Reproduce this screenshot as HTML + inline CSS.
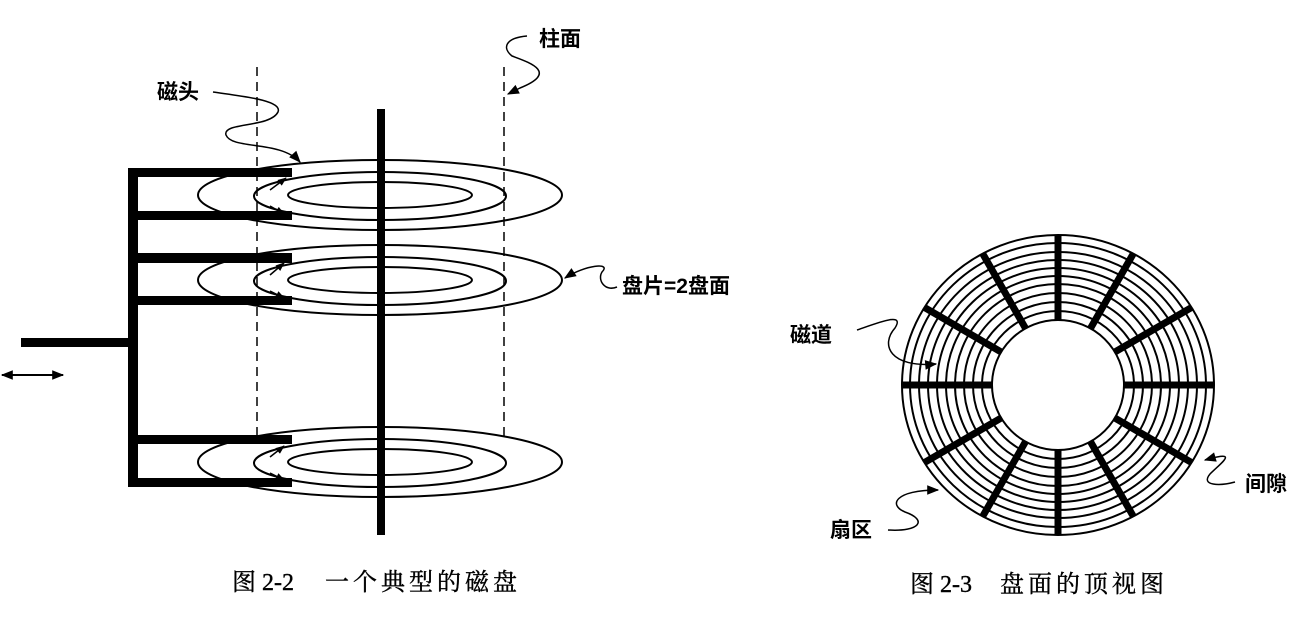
<!DOCTYPE html>
<html><head><meta charset="utf-8"><style>
html,body{margin:0;padding:0;background:#fff;}
svg{display:block}
text{font-family:"Liberation Serif","Noto Serif CJK SC","Noto Sans CJK SC",serif;fill:#000}
.b{font-weight:bold;font-family:"Liberation Sans","Noto Sans CJK SC",sans-serif;font-size:21px}
.c{font-size:24px;stroke:#000;stroke-width:0.4}
</style></head><body>
<svg width="1302" height="618" viewBox="0 0 1302 618" xmlns="http://www.w3.org/2000/svg">
<defs>
<marker id="ab" viewBox="0 0 10 10" refX="9" refY="5" markerWidth="9" markerHeight="9" orient="auto-start-reverse" markerUnits="userSpaceOnUse"><path d="M0,1L10,5L0,9z" fill="#000"/></marker>
<marker id="ad" viewBox="0 0 10 10" refX="9" refY="5" markerWidth="14" markerHeight="12" orient="auto-start-reverse" markerUnits="userSpaceOnUse"><path d="M0,1L10,5L0,9z" fill="#000"/></marker>
<clipPath id="ring"><path clip-rule="evenodd" d="M902,385a156,150 0 1,0 312,0a156,150 0 1,0 -312,0zM992,385a66,65 0 1,0 132,0a66,65 0 1,0 -132,0z"/></clipPath>
</defs>
<g fill="none" stroke="#000" stroke-width="2">
<ellipse cx="380" cy="195" rx="182" ry="35"/><ellipse cx="380" cy="196" rx="126" ry="24"/><ellipse cx="380" cy="195" rx="92" ry="13"/>
<ellipse cx="380" cy="280" rx="182" ry="35"/><ellipse cx="380" cy="281" rx="126" ry="24"/><ellipse cx="380" cy="280" rx="92" ry="13"/>
<ellipse cx="380" cy="462" rx="182" ry="35"/><ellipse cx="380" cy="463" rx="126" ry="24"/><ellipse cx="380" cy="462" rx="92" ry="13"/>
<line x1="257" y1="67" x2="257" y2="440" stroke-width="1.5" stroke-dasharray="9,6"/>
<line x1="504" y1="67" x2="504" y2="440" stroke-width="1.5" stroke-dasharray="9,6"/>
</g>
<rect x="377" y="109" width="8" height="426" fill="#000"/>
<g fill="#000">
<rect x="128" y="168" width="10" height="319"/>
<rect x="128" y="168" width="164" height="9"/><rect x="128" y="211" width="164" height="9"/>
<rect x="128" y="253" width="164" height="10"/><rect x="128" y="296" width="164" height="9"/>
<rect x="128" y="435" width="164" height="9"/><rect x="128" y="478" width="164" height="9"/>
<rect x="21" y="338" width="108" height="9"/>
</g>
<g fill="none" stroke="#000" stroke-width="1.5">
<path d="M270,190L286,178" marker-end="url(#ab)"/><path d="M270,206L284,214" marker-end="url(#ab)"/>
<path d="M270,275L284,263" marker-end="url(#ab)"/><path d="M270,291L284,298" marker-end="url(#ab)"/>
<path d="M270,457L284,446" marker-end="url(#ab)"/><path d="M270,473L284,480" marker-end="url(#ab)"/>
<line x1="2" y1="375" x2="63" y2="375" stroke-width="2" marker-start="url(#ad)" marker-end="url(#ad)"/>
<path d="M213,92C240,96 283,100 278,112C270,128 222,122 226,135C232,150 280,140 300,162" marker-end="url(#ad)"/>
<path d="M527,36C505,38 502,48 512,56C528,62 560,72 520,88L508,94" marker-end="url(#ad)"/>
<path d="M617,287C605,292 597,280 602,272C612,262 585,265 565,278" marker-end="url(#ad)"/>
<path d="M857,330C880,322 905,312 895,328C880,345 890,368 936,364" marker-end="url(#ad)"/>
<path d="M888,530C920,532 928,520 905,512C888,505 895,490 938,490" marker-end="url(#ad)"/>
<path d="M1235,482C1220,486 1200,486 1210,474C1222,462 1240,450 1205,460" marker-end="url(#ad)"/>
</g>
<g fill="none" stroke="#000" stroke-width="2">
<ellipse cx="1058" cy="385" rx="156" ry="150"/>
<ellipse cx="1058" cy="385" rx="66" ry="65"/>
<ellipse cx="1058" cy="385" rx="76" ry="74"/>
<ellipse cx="1058" cy="385" rx="85" ry="83"/>
<ellipse cx="1058" cy="385" rx="94" ry="92"/>
<ellipse cx="1058" cy="385" rx="103" ry="101"/>
<ellipse cx="1058" cy="385" rx="112" ry="109"/>
<ellipse cx="1058" cy="385" rx="121" ry="117"/>
<ellipse cx="1058" cy="385" rx="130" ry="125"/>
<ellipse cx="1058" cy="385" rx="139" ry="133"/>
<ellipse cx="1058" cy="385" rx="148" ry="142"/>
</g>
<g clip-path="url(#ring)" stroke="#000" stroke-width="7">
<line x1="1058" y1="385" x2="1058" y2="220"/><line x1="1058" y1="385" x2="1058" y2="550"/>
<line x1="1058" y1="385" x2="890" y2="385"/><line x1="1058" y1="385" x2="1226" y2="385"/>
<line x1="1058" y1="385" x2="1140" y2="242"/><line x1="1058" y1="385" x2="976" y2="242"/>
<line x1="1058" y1="385" x2="1140" y2="528"/><line x1="1058" y1="385" x2="976" y2="528"/>
<line x1="1058" y1="385" x2="1201" y2="302"/><line x1="1058" y1="385" x2="915" y2="302"/>
<line x1="1058" y1="385" x2="1201" y2="468"/><line x1="1058" y1="385" x2="915" y2="468"/>
</g>
<text x="157" y="99" class="b">磁头</text>
<text x="539" y="46" class="b">柱面</text>
<text x="622" y="293" class="b">盘片=2盘面</text>
<text x="790" y="342" class="b">磁道</text>
<text x="1245" y="491" class="b">间隙</text>
<text x="830" y="537" class="b">扇区</text>
<text x="232" y="590" class="c">图</text><text x="262" y="590" class="c">2-2</text>
<text x="325" y="590" class="c" letter-spacing="4">一个典型的磁盘</text>
<text x="910" y="592" class="c">图</text><text x="940" y="592" class="c">2-3</text>
<text x="1000" y="592" class="c" letter-spacing="4">盘面的顶视图</text>
</svg>
</body></html>
